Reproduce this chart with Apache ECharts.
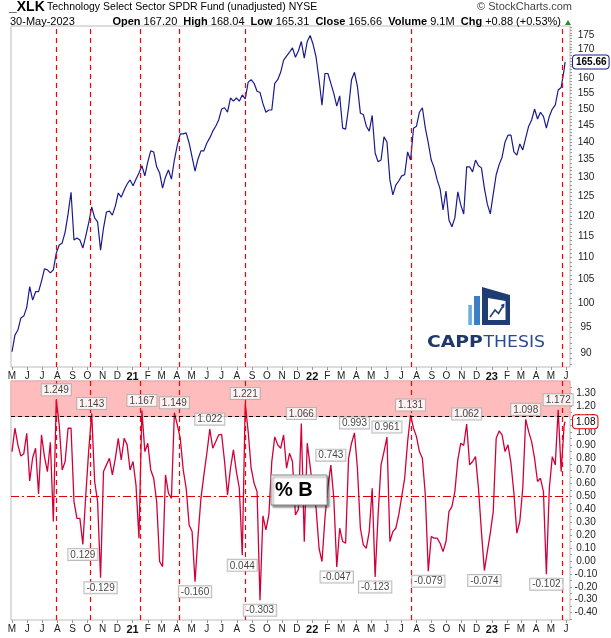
<!DOCTYPE html>
<html>
<head>
<meta charset="utf-8">
<script src="https://cdn.jsdelivr.net/npm/echarts@6.0.0/dist/echarts.min.js"></script>
<style>
html, body { margin: 0; padding: 0; background: #fff; }
#chart-container { width: 611px; height: 638px; }
</style>
</head>
<body>
<div id="chart-container"></div>
<script>
// samples every 6 calendar days from 1-May-2020, last point is 30-May-2023
const stepDays = 6;
const lastDate = '2023-05-30';

const priceValues = [
  90.3, 93.5, 94.5, 96.9, 97.3, 99.1, 103.5, 100.6, 102.4, 102.4,
  104.7, 107.4, 107.2, 106.5, 107.2, 111.0, 112.9, 113.4, 116.0, 120.5,
  126.1, 114.1, 114.6, 114.1, 112.2, 115.1, 118.3, 122.3, 119.5, 118.5,
  111.7, 117.0, 121.0, 121.2, 120.2, 122.5, 125.9, 124.8, 126.7, 128.3,
  129.4, 127.8, 129.6, 131.3, 133.3, 130.5, 134.4, 137.5, 137.2, 133.0,
  131.3, 127.2, 130.2, 132.1, 129.6, 134.9, 139.2, 142.5, 142.5, 142.8,
  139.8, 135.7, 131.8, 135.2, 137.5, 137.5, 139.8, 141.3, 143.3, 144.8,
  146.7, 150.1, 150.5, 149.1, 153.6, 152.6, 153.6, 152.6, 154.6, 153.3,
  158.8, 159.6, 158.4, 155.8, 155.4, 151.8, 149.1, 149.8, 149.8, 158.4,
  159.6, 162.1, 166.3, 167.7, 169.1, 170.6, 167.3, 169.5, 172.9, 167.0,
  172.9, 175.1, 171.8, 167.3, 159.6, 151.3, 161.7, 161.7, 158.4, 155.1,
  151.0, 154.3, 144.2, 143.9, 150.5, 159.6, 162.1, 157.4, 148.8, 148.4,
  144.8, 143.3, 148.1, 136.9, 134.4, 134.9, 141.6, 140.1, 129.4, 125.4,
  128.0, 129.1, 130.5, 130.8, 137.2, 134.9, 144.2, 144.8, 149.1, 150.5,
  144.2, 139.8, 134.9, 132.7, 129.4, 127.0, 121.5, 126.4, 119.0, 117.3,
  119.5, 126.2, 122.8, 120.5, 133.0, 133.0, 131.6, 134.9, 133.3, 132.7,
  127.2, 123.0, 120.5, 125.6, 130.8, 133.6, 135.7, 140.1, 142.1, 142.1,
  137.2, 136.3, 139.5, 137.8, 141.3, 144.8, 146.7, 150.1, 147.0, 149.1,
  147.8, 144.2, 147.8, 150.1, 151.3, 156.2, 157.0, 163.0, 165.66
];

const pctBValues = [
  0.848, 1.029, 0.900, 0.814, 0.832, 0.990, 0.620, 0.800, 0.874, 0.520,
  0.977, 0.809, 0.693, 0.920, 0.306, 1.249, 1.054, 0.706, 0.771, 1.029,
  1.029, 0.461, 0.331, 0.330, 0.129, 0.512, 0.861, 1.143, 0.616, 0.461,
  -0.129, 0.693, 0.745, 0.796, 0.667, 0.796, 0.951, 0.783, 0.951, 0.900,
  0.706, 0.771, 0.590, 0.177, 1.167, 0.848, 0.913, 0.706, 0.641, 0.461,
  -0.004, -0.043, 0.667, 0.525, 0.486, 1.149, 1.054, 0.951, 0.706, 0.564,
  0.280, 0.228, -0.160, 0.189, 0.486, 0.667, 0.835, 1.022, 0.874, 0.925,
  0.977, 0.982, 0.771, 0.512, 0.719, 0.861, 0.693, 0.564, 0.044, 1.221,
  1.003, 0.719, 0.603, 0.538, -0.303, 0.350, 0.241, 0.357, 0.771, 0.962,
  0.900, 0.874, 0.977, 0.719, 0.835, 0.771, 0.357, 0.400, 1.066, 0.150,
  0.913, 0.732, 0.538, 0.409, 0.099, -0.004, 0.331, 0.577, 0.743, 0.486,
  -0.047, 0.254, 0.151, 0.138, 0.796, 0.913, 0.993, 0.719, 0.254, 0.125,
  0.099, 0.228, 0.564, -0.123, 0.357, 0.745, 0.848, 0.961, 0.151, 0.228,
  0.254, 0.357, 0.499, 0.641, 0.925, 1.131, 1.029, 0.964, 0.848, 0.796,
  0.512, -0.079, 0.189, 0.177, 0.177, 0.138, 0.073, 0.151, 0.383, 0.422,
  0.538, 0.783, 0.913, 0.895, 1.062, 0.745, 0.771, 0.809, 0.564, 0.228,
  -0.074, 0.073, 0.216, 0.383, 0.951, 1.008, 0.977, 0.848, 0.900, 0.758,
  0.525, 0.216, 0.306, 0.564, 1.098, 1.003, 0.925, 0.796, 0.616, 0.641,
  0.538, -0.102, 0.564, 0.809, 0.745, 1.172, 0.693, 1.050, 1.08
];

// indexes of the labelled highs and lows of %B
const peakIdx = [15, 27, 44, 55, 67, 79, 98, 108, 116, 127, 135, 154, 174, 185];
const troughIdx = [24, 30, 62, 78, 84, 110, 123, 141, 160, 181];

// red dashed signal lines
const signalDates = ['2020-07-30', '2020-10-08', '2021-01-17', '2021-04-05', '2021-08-19', '2022-07-21', '2023-05-25'];

const priceTicks = [90, 95, 100, 105, 110, 115, 120, 125, 130, 135, 140, 145, 150, 155, 160, 165, 170, 175];
const pctBTicks = [-0.4, -0.3, -0.2, -0.1, 0, 0.1, 0.2, 0.3, 0.4, 0.5, 0.6, 0.7, 0.8, 0.9, 1.0, 1.1, 1.2, 1.3];
const monthLetters = ['J', 'F', 'M', 'A', 'M', 'J', 'J', 'A', 'S', 'O', 'N', 'D'];
const bandLevel = 1.12;
const midLevel = 0.5;
const lastClose = 165.66;
const lastPctB = 1.08;

function day(s) {
  const p = s.split('-');
  return new Date(+p[0], +p[1] - 1, +p[2]).getTime();
}

const dates = [];
for (let k = 0; k < priceValues.length - 1; k++) {
  dates.push(new Date(2020, 4, 1 + stepDays * k).getTime());
}
dates.push(day(lastDate));

const monthStarts = [];
for (let y = 2020, m = 4; y < 2023 || m <= 5; m++) {
  if (m > 11) { m = 0; y++; }
  monthStarts.push(new Date(y, m, 1).getTime());
}

const priceMinor = [];
for (let v = 88; v <= 178; v++) priceMinor.push(v);
const pctBMinor = [];
for (let i = -9; i <= 27; i++) pctBMinor.push(+(i * 0.05).toFixed(2));

const font = 'Liberation Sans';

function monthLabel(v) {
  const d = new Date(v);
  const m = d.getMonth();
  return m === 0 ? '{y|' + String(d.getFullYear()).slice(2) + '}' : monthLetters[m];
}

function makeX(gridIndex) {
  return {
    type: 'value',
    gridIndex: gridIndex,
    min: day('2020-04-29'),
    max: day('2023-06-09'),
    axisLine: { show: false, onZero: false },
    splitLine: { show: false },
    axisTick: { show: true, customValues: monthStarts, length: 3, lineStyle: { color: '#999' } },
    axisLabel: {
      customValues: monthStarts,
      formatter: monthLabel,
      margin: 4,
      fontSize: 10,
      color: '#222',
      fontFamily: font,
      showMinLabel: true,
      showMaxLabel: true,
      rich: { y: { fontWeight: 'bold', fontSize: 11, fontFamily: font, color: '#111' } }
    }
  };
}

const pricePairs = dates.map((d, i) => [d, priceValues[i]]);
const pctBPairs = dates.map((d, i) => [d, pctBValues[i]]);
const signalLines = signalDates.map(d => ({ xAxis: day(d) }));

function annotLabel(pos) {
  return {
    show: true,
    position: pos,
    distance: 4,
    fontSize: 10,
    fontFamily: font,
    color: '#111',
    backgroundColor: '#fff',
    borderColor: '#aaa',
    borderWidth: 1,
    padding: [1, 2, 0, 2],
    formatter: p => p.value[1].toFixed(3)
  };
}

const option = {
  animation: false,
  grid: [
    { left: 11, right: 41, top: 26, height: 341, show: true, borderColor: '#bbb', borderWidth: 1 },
    { left: 11, right: 41, top: 381, height: 239, show: true, borderColor: '#bbb', borderWidth: 1 }
  ],
  xAxis: [makeX(0), makeX(1)],
  yAxis: [
    {
      type: 'log',
      logBase: 10,
      gridIndex: 0,
      position: 'right',
      min: 87.46,
      max: 178.6,
      axisLine: { show: false },
      splitLine: { show: false },
      axisTick: { show: true, customValues: priceMinor, length: 2, lineStyle: { color: '#999' } },
      axisLabel: { customValues: priceTicks, margin: 16, align: 'center', fontSize: 10, color: '#222', fontFamily: font },
      axisPointer: {
        show: true, status: 'show', value: lastClose, triggerTooltip: false,
        type: 'line', lineStyle: { color: 'rgba(0,0,0,0)' },
        label: {
          show: true, margin: 3, formatter: p => Number(p.value).toFixed(2),
          backgroundColor: '#fff', borderColor: '#1a1a8c', borderWidth: 1,
          color: '#000', fontWeight: 'bold', fontSize: 10, fontFamily: font, padding: [2, 2, 1, 3]
        }
      }
    },
    {
      type: 'value',
      gridIndex: 1,
      position: 'right',
      min: -0.457,
      max: 1.395,
      axisLine: { show: false },
      splitLine: { show: false },
      axisTick: { show: true, customValues: pctBMinor, length: 2, lineStyle: { color: '#999' } },
      axisLabel: { customValues: pctBTicks, margin: 16, align: 'center', fontSize: 10, color: '#222', fontFamily: font, formatter: v => v.toFixed(2) },
      axisPointer: {
        show: true, status: 'show', value: lastPctB, triggerTooltip: false,
        type: 'line', lineStyle: { color: 'rgba(0,0,0,0)' },
        label: {
          show: true, margin: 3, formatter: p => Number(p.value).toFixed(2),
          backgroundColor: '#fff', borderColor: '#e00000', borderWidth: 1,
          color: '#000', fontSize: 10, fontFamily: font, padding: [2, 2, 1, 3]
        }
      }
    }
  ],
  series: [
    {
      name: 'XLK',
      type: 'line',
      xAxisIndex: 0,
      yAxisIndex: 0,
      data: pricePairs,
      showSymbol: false,
      lineStyle: { color: '#1a1a8f', width: 1.2 },
      markLine: {
        silent: true, symbol: 'none', label: { show: false },
        lineStyle: { color: '#ff0000', type: [5, 4], width: 1.2 },
        data: signalLines
      }
    },
    {
      name: '%B',
      type: 'line',
      xAxisIndex: 1,
      yAxisIndex: 1,
      data: pctBPairs,
      showSymbol: false,
      lineStyle: { color: '#d2003a', width: 1.3 },
      markArea: {
        silent: true,
        itemStyle: { color: '#ffbcbc', borderColor: '#f3a5a5', borderWidth: 1 },
        data: [[{ yAxis: bandLevel }, { yAxis: 1.395 }]]
      },
      markLine: {
        silent: true, symbol: 'none', label: { show: false },
        lineStyle: { color: '#ff0000', type: [5, 4], width: 1.2 },
        data: signalLines.concat([
          { yAxis: bandLevel, lineStyle: { color: '#000', type: [4, 3], width: 1 } },
          { yAxis: midLevel, lineStyle: { color: '#e00000', type: [8, 3, 2, 3], width: 1 } }
        ])
      }
    },
    {
      type: 'scatter',
      xAxisIndex: 1,
      yAxisIndex: 1,
      symbolSize: 1,
      itemStyle: { color: 'rgba(0,0,0,0)' },
      label: annotLabel('top'),
      data: peakIdx.map(i => [dates[i], pctBValues[i]]),
      z: 5
    },
    {
      type: 'scatter',
      xAxisIndex: 1,
      yAxisIndex: 1,
      symbolSize: 1,
      itemStyle: { color: 'rgba(0,0,0,0)' },
      label: annotLabel('bottom'),
      data: troughIdx.map(i => [dates[i], pctBValues[i]]),
      z: 5
    }
  ],
  graphic: [
    { type: 'text', left: 9, top: 0, style: { text: '_XLK', font: 'bold 14px "Liberation Sans"', fill: '#000' } },
    { type: 'text', x: 47, y: 7, style: { text: 'Technology Select Sector SPDR Fund (unadjusted) NYSE', font: '10.5px "Liberation Sans"', fill: '#000', verticalAlign: 'middle' } },
    { type: 'text', x: 572, y: 7, style: { text: '\u00a9 StockCharts.com', font: '11px "Liberation Sans"', fill: '#444', align: 'right', verticalAlign: 'middle' } },
    { type: 'text', x: 10, y: 22, style: { text: '30-May-2023', font: '11px "Liberation Sans"', fill: '#000', verticalAlign: 'middle' } },
    {
      type: 'text', x: 561, y: 22,
      style: {
        text: '{b|Open} 167.20  {b|High} 168.04  {b|Low} 165.31  {b|Close} 165.66  {b|Volume} 9.1M  {b|Chg} +0.88 (+0.53%)',
        font: '11px "Liberation Sans"', fill: '#000', align: 'right', verticalAlign: 'middle',
        rich: { b: { font: 'bold 11px "Liberation Sans"', fill: '#000' } }
      }
    },
    { type: 'polygon', shape: { points: [[565, 25], [571, 25], [568, 20]] }, style: { fill: '#2e8b2e' } },
    // CAPPTHESIS logo
    { type: 'rect', shape: { x: 468.3, y: 305, width: 3.6, height: 20 }, style: { fill: '#6aaee0' } },
    { type: 'rect', shape: { x: 474, y: 296, width: 6, height: 29 }, style: { fill: '#3c7fc4' } },
    { type: 'polygon', shape: { points: [[482, 287], [510, 295], [510, 325], [482, 325]] }, style: { fill: '#1f3c73' } },
    { type: 'polygon', shape: { points: [[488, 298], [505.5, 301], [505.5, 320], [488, 320]] }, style: { fill: '#fff' } },
    { type: 'polyline', shape: { points: [[490, 317], [495, 310], [498.5, 313.5], [503, 306]] }, style: { stroke: '#1f3c73', lineWidth: 1.6, fill: null } },
    { type: 'polygon', shape: { points: [[500.5, 305], [504.5, 303.5], [504, 308]] }, style: { fill: '#1f3c73' } },
    { type: 'text', x: 427, y: 342.5, scaleX: 1.17, style: { text: 'CAPP', font: 'bold 16px "DejaVu Sans"', fill: '#1f3868', verticalAlign: 'middle' } },
    { type: 'text', x: 483.5, y: 342.5, scaleX: 1.08, style: { text: 'THESIS', font: '16px "DejaVu Sans"', fill: '#2b4c8c', verticalAlign: 'middle' } },
    // %B caption box
    {
      type: 'rect', shape: { x: 271, y: 475, width: 56, height: 30 },
      style: { fill: '#fff', stroke: '#888', lineWidth: 1, shadowBlur: 2, shadowOffsetX: 2, shadowOffsetY: 2, shadowColor: 'rgba(0,0,0,0.45)' },
      z: 100
    },
    { type: 'text', x: 275, y: 490, z: 101, style: { text: '% B', font: 'bold 20px "Liberation Sans"', fill: '#000', verticalAlign: 'middle' } }
  ]
};

const chart = echarts.init(document.getElementById('chart-container'));
chart.setOption(option);
</script>
</body>
</html>
